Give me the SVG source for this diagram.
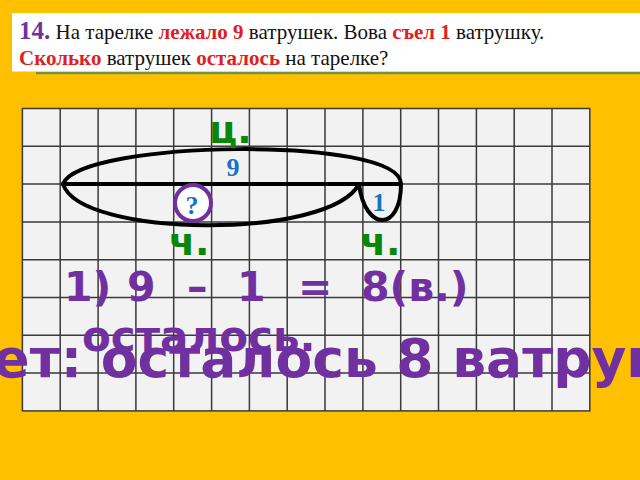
<svg xmlns="http://www.w3.org/2000/svg" width="640" height="480" viewBox="0 0 640 480">
<style>
.hdr{font-family:"Liberation Serif","Times New Roman",serif;font-size:21px;fill:#111}
.red{fill:#E0201F;font-weight:bold}
.num{font-family:"Liberation Serif","Times New Roman",serif;font-weight:bold;font-size:26px;fill:#1A72C4}
.grn{font-family:"DejaVu Sans",sans-serif;font-weight:bold;font-size:38px;fill:#0A860A}
.pur{font-family:"DejaVu Sans",sans-serif;font-weight:bold;fill:#7030A0}
.arc{fill:none;stroke:#000;stroke-width:4;stroke-linecap:round;stroke-linejoin:round}
</style>
<rect x="0" y="0" width="640" height="480" fill="#FFC000"/>
<g id="header">
<line x1="36" y1="73" x2="640" y2="73" stroke="#76923C" stroke-width="2.5"/>
<rect x="12" y="13" width="628" height="58.5" fill="#FFFFFF"/>
<text class="hdr" x="19" y="39"><tspan font-size="25" font-weight="bold" fill="#7030A0">14.</tspan> На тарелке <tspan class="red">лежало 9</tspan> ватрушек. Вова <tspan class="red">съел 1</tspan> ватрушку.</text>
<text class="hdr" x="19" y="65"><tspan class="red">Сколько</tspan> ватрушек <tspan class="red">осталось</tspan> на тарелке?</text>
</g>
<g id="grid">
<rect x="22.4" y="108.5" width="567.4" height="302.4" fill="#F2F2F2" stroke="#3A3A3A" stroke-width="1.5"/>
<path d="M60.2 108.5V410.9M98.1 108.5V410.9M135.9 108.5V410.9M173.7 108.5V410.9M211.6 108.5V410.9M249.4 108.5V410.9M287.2 108.5V410.9M325 108.5V410.9M362.9 108.5V410.9M400.7 108.5V410.9M438.5 108.5V410.9M476.4 108.5V410.9M514.2 108.5V410.9M552 108.5V410.9M22.4 146.3H589.8M22.4 184.1H589.8M22.4 221.9H589.8M22.4 259.7H589.8M22.4 297.5H589.8M22.4 335.3H589.8M22.4 373.1H589.8" fill="none" stroke="#3A3A3A" stroke-width="1.5"/>
</g>
<g id="connectors">
<path class="arc" d="M63 184H401"/>
<path class="arc" d="M63 184C80 140 401 135 401 184"/>
<path class="arc" d="M63 184C80 238 330 240 359 184"/>
<path class="arc" d="M359 184C365 232 401 232 401 184"/>
</g>
<g id="whole">
<text class="grn" x="209" y="143">ц.</text>
<text class="num" x="233" y="176" text-anchor="middle">9</text>
</g>
<g id="part-unknown">
<circle cx="193" cy="203" r="18" fill="#FFFFFF" stroke="#7030A0" stroke-width="4"/>
<text class="num" x="192" y="214" text-anchor="middle">?</text>
<text class="grn" x="169" y="255">ч.</text>
</g>
<g id="part-one">
<text class="num" x="379" y="211" text-anchor="middle">1</text>
<text class="grn" x="360" y="255">ч.</text>
</g>
<g id="solution">
<text class="pur" font-size="41" y="301"><tspan x="64">1)</tspan><tspan x="127">9</tspan><tspan x="187">–</tspan><tspan x="237">1</tspan><tspan x="298">=</tspan><tspan x="361">8(в.)</tspan></text>
<text class="pur" font-size="42" x="82" y="351">осталось.</text>
<text class="pur" font-size="53.5" x="-117" y="377">Ответ: осталось 8 ватрушек.</text>
</g>
</svg>
